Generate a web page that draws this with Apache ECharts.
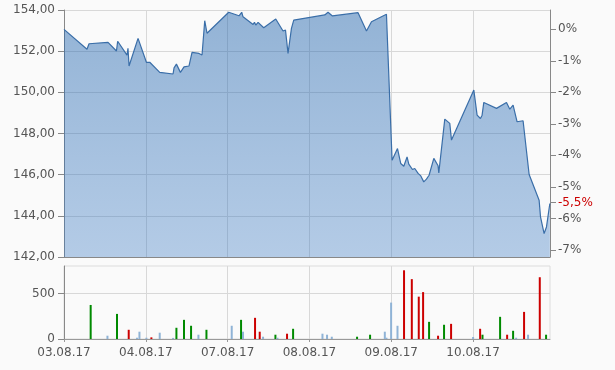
<!DOCTYPE html>
<html>
<head>
<meta charset="utf-8">
<script src="https://cdn.jsdelivr.net/npm/echarts@6/dist/echarts.min.js"></script>
<style>
html,body{margin:0;padding:0;background:#fafafa;}
#chart{width:615px;height:370px;}
</style>
</head>
<body>
<div id="chart"></div>
<script>
// x values are trading-day positions (0 = 03.08.17, 1 = 04.08.17, ...)
var dayLabels = ['03.08.17','04.08.17','07.08.17','08.08.17','09.08.17','10.08.17'];
var priceTicks = [142, 144, 146, 148, 150, 152, 154];
var pctTicks = [0, -1, -2, -3, -4, -5, -6, -7];
var volTicks = [0, 500];

var priceData = [
  [0.000,153.06],[0.281,152.09],[0.306,152.36],[0.538,152.43],[0.641,152.01],[0.656,152.48],
  [0.770,151.81],[0.782,152.14],[0.795,151.28],[0.905,152.62],[0.929,152.62],[1.007,151.46],
  [1.048,151.46],[1.170,150.97],[1.333,150.89],[1.345,151.19],[1.374,151.37],[1.423,150.97],
  [1.467,151.24],[1.528,151.28],[1.565,151.94],[1.650,151.89],[1.687,151.81],[1.720,153.48],
  [1.748,152.87],[2.013,153.89],[2.139,153.72],[2.172,153.89],[2.188,153.67],[2.311,153.30],
  [2.328,153.40],[2.344,153.27],[2.372,153.40],[2.441,153.14],[2.588,153.56],[2.677,152.98],
  [2.707,153.03],[2.738,151.89],[2.780,153.11],[2.808,153.51],[3.187,153.76],[3.227,153.89],
  [3.281,153.71],[3.594,153.87],[3.697,152.98],[3.758,153.43],[3.941,153.79],[3.961,153.79],
  [4.010,146.70],[4.076,147.27],[4.116,146.54],[4.137,146.62],[4.153,146.41],[4.193,146.86],
  [4.214,146.51],[4.235,146.54],[4.259,146.25],[4.287,146.30],[4.328,146.06],[4.361,145.94],
  [4.397,145.65],[4.430,145.78],[4.462,145.97],[4.520,146.79],[4.572,146.43],[4.581,146.09],
  [4.654,148.70],[4.715,148.49],[4.736,147.68],[5.009,150.11],[5.049,148.89],[5.090,148.73],
  [5.110,148.89],[5.131,149.51],[5.286,149.22],[5.408,149.51],[5.449,149.18],[5.489,149.38],
  [5.538,148.57],[5.611,148.62],[5.685,146.01],[5.807,144.76],[5.824,143.95],[5.868,143.14],
  [5.897,143.46],[5.938,144.60]
];

var volGreen = [
  [0.326,373],[0.648,275],[1.374,123],[1.467,210],[1.553,145],[1.741,101],[2.164,210],
  [2.584,47],[2.800,112],[3.582,25],[3.741,47],[4.462,188],[4.645,156],[5.115,47],
  [5.330,243],[5.489,90],[5.892,47]
];
var volRed = [
  [0.791,101],[1.068,18],[2.335,232],[2.392,80],[2.726,58],[4.156,753],[4.251,656],
  [4.336,464],[4.389,514],[4.572,36],[4.731,166],[5.086,112],[5.416,47],[5.623,297],
  [5.815,677]
];
var volBlue = [
  [0.531,36],[0.892,14],[0.922,80],[1.007,14],[1.170,69],[1.333,12],[1.643,47],[2.050,145],
  [2.188,80],[2.433,25],[2.609,14],[3.159,58],[3.215,47],[3.273,25],[3.921,80],[3.941,14],
  [3.998,399],[4.076,145],[5.000,22],[5.526,14],[5.672,47]
];

var FONT = 'DejaVu Sans';
var base = priceData[0][1];
var last = priceData[priceData.length - 1][1];
var lastPct = Math.round((last / base - 1) * 1000) / 10;
var pMin = priceTicks[0], pMax = priceTicks[priceTicks.length - 1];
var pctAll = pctTicks.concat([lastPct]);

function fmtNum(v, d) { return v.toFixed(d).replace('.', ','); }

var chart = echarts.init(document.getElementById('chart'), null, {renderer: 'canvas'});
var option = {
  animation: false,
  backgroundColor: '#fafafa',
  grid: [
    {left: 64, right: 65, top: 10, height: 247},
    {left: 64, right: 65, top: 266, height: 73, show: true, borderColor: '#dcdcdc', borderWidth: 1}
  ],
  xAxis: [
    {
      gridIndex: 0, type: 'value', min: 0, max: 5.94, interval: 1,
      axisLine: {onZero: false, lineStyle: {color: '#888'}},
      axisTick: {show: false}, axisLabel: {show: false},
      splitLine: {show: true, lineStyle: {color: '#d8d8d8'}}
    },
    {
      gridIndex: 1, type: 'value', min: 0, max: 5.94, interval: 1,
      axisLine: {onZero: false, lineStyle: {color: '#999'}},
      axisTick: {show: true, length: 3, customValues: [0,1,2,3,4,5], lineStyle: {color: '#999'}},
      axisLabel: {
        customValues: [0,1,2,3,4,5], margin: 8, color: '#555', fontSize: 12, fontFamily: FONT,
        formatter: function (v) { return dayLabels[Math.round(v)] || ''; }
      },
      splitLine: {show: true, lineStyle: {color: '#d8d8d8'}}
    }
  ],
  yAxis: [
    {
      gridIndex: 0, type: 'value', min: pMin, max: pMax, interval: 2,
      axisLine: {show: true, lineStyle: {color: '#888'}},
      axisTick: {show: true, length: 6, lineStyle: {color: '#888'}},
      axisLabel: {margin: 9, color: '#555', fontSize: 12, fontFamily: FONT,
        formatter: function (v) { return fmtNum(v, 2); }},
      splitLine: {show: true, lineStyle: {color: '#d8d8d8'}}
    },
    {
      gridIndex: 0, type: 'value', position: 'right',
      min: (pMin / base - 1) * 100, max: (pMax / base - 1) * 100,
      axisLine: {show: true, lineStyle: {color: '#888'}},
      axisTick: {show: true, length: 6, customValues: pctAll, lineStyle: {color: '#888'}},
      axisLabel: {
        customValues: pctAll, margin: 8, color: '#555', fontSize: 12, fontFamily: FONT,
        formatter: function (v) {
          if (Math.abs(v - lastPct) < 1e-9) return '{r|' + fmtNum(v, 1) + '%}';
          return Math.round(v) + '%';
        },
        rich: {r: {color: '#cc0000', fontSize: 12, fontFamily: FONT}}
      },
      splitLine: {show: false}
    },
    {
      gridIndex: 1, type: 'value', min: 0, max: 800, interval: 500,
      axisLine: {show: true, lineStyle: {color: '#888'}},
      axisTick: {show: true, length: 6, customValues: volTicks, lineStyle: {color: '#888'}},
      axisLabel: {customValues: volTicks, margin: 9, color: '#555', fontSize: 12, fontFamily: FONT},
      splitLine: {show: true, lineStyle: {color: '#d8d8d8'}}
    }
  ],
  series: [
    {
      type: 'line', xAxisIndex: 0, yAxisIndex: 0, data: priceData,
      symbol: 'none', lineStyle: {color: '#3a6ea8', width: 1.2},
      areaStyle: {
        origin: 'start', opacity: 1,
        color: {type: 'linear', x: 0, y: 0, x2: 0, y2: 1, colorStops: [
          {offset: 0, color: 'rgba(25,95,170,0.46)'},
          {offset: 1, color: 'rgba(55,120,195,0.36)'}
        ]}
      }
    },
    {type: 'bar', xAxisIndex: 1, yAxisIndex: 2, data: volGreen, barWidth: 2, barGap: '-100%',
     itemStyle: {color: '#008a00'}},
    {type: 'bar', xAxisIndex: 1, yAxisIndex: 2, data: volRed, barWidth: 2, barGap: '-100%',
     itemStyle: {color: '#cc0000'}},
    {type: 'bar', xAxisIndex: 1, yAxisIndex: 2, data: volBlue, barWidth: 2, barGap: '-100%',
     itemStyle: {color: '#8fb3d6'}}
  ]
};
chart.setOption(option);
</script>
</body>
</html>
